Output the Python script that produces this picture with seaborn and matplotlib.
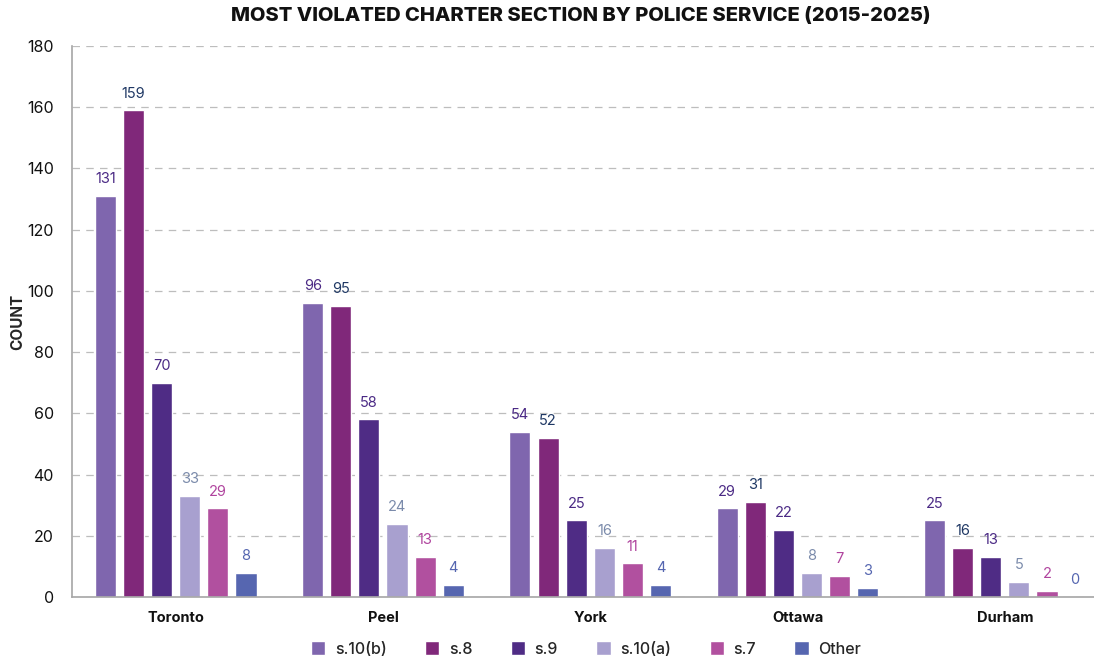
import matplotlib
matplotlib.use("Agg")
import matplotlib.pyplot as plt
import seaborn as sns
import pandas as pd
from matplotlib.patches import Patch

services = ["Toronto", "Peel", "York", "Ottawa", "Durham"]
sections = ["s.10(b)", "s.8", "s.9", "s.10(a)", "s.7", "Other"]
counts = {
    "s.10(b)": [131, 96, 54, 29, 25],
    "s.8": [159, 95, 52, 31, 16],
    "s.9": [70, 58, 25, 22, 13],
    "s.10(a)": [33, 24, 16, 8, 5],
    "s.7": [29, 13, 11, 7, 2],
    "Other": [8, 4, 4, 3, 0],
}
y_ticks = list(range(0, 181, 20))

bar_colors = ["#7f66ae", "#80287a", "#4f2c85", "#a8a0cf", "#b1509f", "#5666b0"]
label_colors = ["#4b2a85", "#1f3864", "#4b2a85", "#7b8bab", "#b0449e", "#5566b0"]

rows = []
for sec in sections:
    for svc, v in zip(services, counts[sec]):
        rows.append({"Service": svc, "Section": sec, "Count": v})
df = pd.DataFrame(rows)

sns.set_theme(style="white")
plt.rcParams["font.family"] = ["Inter", "DejaVu Sans"]

fig = plt.figure(figsize=(10.94, 6.61), dpi=100)
ax = fig.add_axes([72 / 1094, 1 - 597 / 661, 1 - 72 / 1094, (597 - 46) / 661])

sns.barplot(
    data=df, x="Service", y="Count", hue="Section",
    order=services, hue_order=sections, palette=bar_colors,
    width=0.814, gap=0.25, saturation=1, legend=False, ax=ax,
)

# value labels above each bar, coloured per series
for container, col in zip(ax.containers, label_colors):
    ax.bar_label(container, labels=[f"{v:g}" for v in container.datavalues],
                 padding=7, color=col, fontsize=10.5)

ax.set_xlim(-0.5, 4.43)
ax.set_ylim(0, 180)
ax.set_yticks(y_ticks)
ax.yaxis.grid(True, linestyle=(0, (6, 5)), color="#bdbdbd", linewidth=0.9)
ax.set_axisbelow(True)
ax.tick_params(axis="both", length=0, labelsize=11.5, colors="#111111")
ax.tick_params(axis="y", pad=13)
ax.tick_params(axis="x", pad=10)
for lab in ax.get_xticklabels():
    lab.set_fontweight("bold")
    lab.set_fontsize(10.5)

for side in ["top", "right"]:
    ax.spines[side].set_visible(False)
for side in ["left", "bottom"]:
    ax.spines[side].set_color("#a6a6a6")
    ax.spines[side].set_linewidth(1.2)

ax.set_xlabel("")
ax.set_ylabel("COUNT", fontsize=11, fontweight="bold")
ax.yaxis.set_label_coords((25 - 72) / 1022, 0.5)

fig.suptitle("MOST VIOLATED CHARTER SECTION BY POLICE SERVICE (2015-2025)",
             x=581 / 1094, y=1 - 16 / 661, fontsize=14.5, fontweight="heavy",
             color="#111111", va="center")

handles = [Patch(facecolor=c, label=s) for c, s in zip(bar_colors, sections)]
fig.legend(handles=handles, loc="center", bbox_to_anchor=(586 / 1094, 1 - 649 / 661),
           ncol=6, frameon=False, prop={"size": 11.5, "weight": "medium"},
           handlelength=0.9, handleheight=0.9,
           handletextpad=0.6, columnspacing=2.4)

fig.savefig("out.png", dpi=100)
